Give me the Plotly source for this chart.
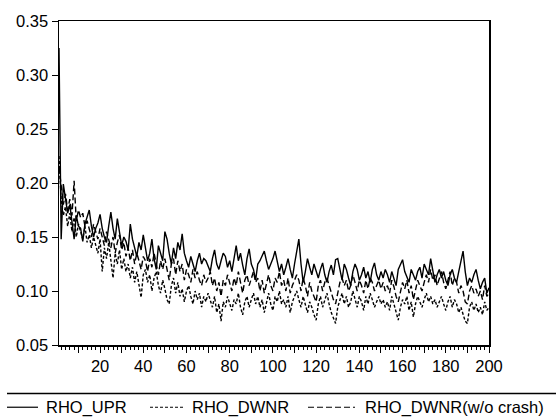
import plotly.graph_objects as go

t = list(range(1, 201))

rho_upr = [
    0.325, 0.148, 0.199, 0.185, 0.172, 0.180, 0.165, 0.148, 0.170, 0.160,
    0.158, 0.146, 0.162, 0.168, 0.175, 0.160, 0.150, 0.158, 0.163, 0.171,
    0.158, 0.150, 0.145, 0.160, 0.173, 0.158, 0.148, 0.167, 0.155, 0.142,
    0.150, 0.146, 0.138, 0.162, 0.148, 0.140, 0.132, 0.145, 0.138, 0.152,
    0.140, 0.128, 0.135, 0.148, 0.130, 0.120, 0.142, 0.135, 0.128, 0.155,
    0.148, 0.135, 0.125, 0.140, 0.130, 0.145, 0.138, 0.153, 0.135, 0.128,
    0.122, 0.132, 0.126, 0.118, 0.128, 0.135, 0.125, 0.130, 0.128, 0.122,
    0.118, 0.130, 0.138, 0.125, 0.120, 0.128, 0.135, 0.132, 0.122, 0.128,
    0.118, 0.130, 0.142, 0.128, 0.135, 0.124, 0.115, 0.130, 0.139, 0.125,
    0.120, 0.110, 0.125, 0.128, 0.132, 0.137, 0.128, 0.120, 0.125, 0.130,
    0.137, 0.126, 0.118, 0.125, 0.115, 0.122, 0.130, 0.120, 0.112, 0.125,
    0.135, 0.148, 0.125, 0.108, 0.118, 0.130, 0.122, 0.115, 0.125, 0.118,
    0.112, 0.120, 0.126, 0.115, 0.108, 0.118, 0.124, 0.115, 0.129, 0.130,
    0.118, 0.110, 0.125, 0.120, 0.112, 0.105, 0.118, 0.125, 0.120, 0.110,
    0.115, 0.122, 0.112, 0.118, 0.108, 0.120, 0.126, 0.115, 0.110, 0.118,
    0.112, 0.120, 0.115, 0.108, 0.118, 0.112, 0.105, 0.120, 0.124, 0.129,
    0.118, 0.112, 0.108, 0.120, 0.115, 0.110, 0.118, 0.122, 0.112, 0.125,
    0.120, 0.115, 0.130, 0.118, 0.108, 0.115, 0.120, 0.112, 0.118, 0.110,
    0.105, 0.115, 0.120, 0.112, 0.108, 0.118, 0.128, 0.137, 0.118, 0.105,
    0.112, 0.108, 0.115, 0.120, 0.110, 0.102, 0.108, 0.112, 0.098, 0.103,
]

rho_dwnr = [
    0.225, 0.185, 0.170, 0.178, 0.160, 0.172, 0.155, 0.168, 0.150, 0.162,
    0.155, 0.148, 0.160, 0.145, 0.152, 0.140, 0.150, 0.142, 0.135, 0.148,
    0.118, 0.140, 0.130, 0.145, 0.128, 0.112, 0.135, 0.125, 0.138, 0.120,
    0.130, 0.118, 0.125, 0.112, 0.122, 0.108, 0.118, 0.105, 0.094, 0.115,
    0.120, 0.108, 0.115, 0.100, 0.112, 0.118, 0.105, 0.098, 0.110, 0.102,
    0.092, 0.088, 0.105, 0.112, 0.098, 0.108, 0.095, 0.102, 0.090, 0.100,
    0.105, 0.095, 0.088, 0.100, 0.092, 0.098, 0.085, 0.095, 0.090, 0.098,
    0.092, 0.085, 0.095, 0.080, 0.088, 0.072, 0.090, 0.085, 0.095, 0.088,
    0.082, 0.092, 0.088, 0.098, 0.085, 0.078, 0.090, 0.095, 0.085, 0.092,
    0.098, 0.088, 0.095, 0.085, 0.092, 0.080, 0.090, 0.098, 0.088, 0.082,
    0.095, 0.090, 0.100, 0.088, 0.092, 0.085, 0.095, 0.080, 0.090, 0.095,
    0.100, 0.092, 0.085, 0.095, 0.088, 0.080, 0.090, 0.085, 0.078, 0.073,
    0.088, 0.095, 0.085, 0.092, 0.098, 0.088, 0.080, 0.075, 0.070, 0.085,
    0.092, 0.098, 0.088, 0.095, 0.085, 0.090, 0.100, 0.092, 0.085, 0.095,
    0.090, 0.082, 0.095, 0.088, 0.098, 0.092, 0.085, 0.090, 0.095, 0.088,
    0.092, 0.085, 0.090, 0.082, 0.095, 0.088, 0.080, 0.073, 0.085, 0.092,
    0.088, 0.095, 0.082, 0.090, 0.076, 0.088, 0.095, 0.090, 0.085, 0.092,
    0.098, 0.090, 0.095, 0.088, 0.092, 0.085, 0.090, 0.095, 0.088, 0.082,
    0.090, 0.095, 0.085, 0.092, 0.088, 0.080, 0.085, 0.078, 0.072, 0.070,
    0.085, 0.090, 0.082, 0.088, 0.080, 0.085, 0.078, 0.090, 0.082, 0.085,
]

rho_dwnr_wo_crash = [
    0.215, 0.200, 0.180, 0.190, 0.175, 0.185, 0.170, 0.202, 0.165, 0.175,
    0.168, 0.172, 0.160, 0.165, 0.158, 0.150, 0.162, 0.155, 0.148, 0.158,
    0.150, 0.142, 0.155, 0.148, 0.140, 0.150, 0.135, 0.145, 0.152, 0.138,
    0.145, 0.132, 0.140, 0.128, 0.138, 0.125, 0.135, 0.128, 0.120, 0.132,
    0.128, 0.118, 0.130, 0.122, 0.135, 0.125, 0.115, 0.128, 0.120, 0.130,
    0.118, 0.110, 0.125, 0.130, 0.115, 0.128, 0.118, 0.125, 0.110, 0.120,
    0.115, 0.108, 0.120, 0.112, 0.118, 0.110, 0.105, 0.115, 0.108, 0.112,
    0.118, 0.105, 0.112, 0.100, 0.108, 0.095, 0.110, 0.105, 0.115, 0.108,
    0.100, 0.112, 0.105, 0.118, 0.108, 0.098, 0.110, 0.115, 0.105, 0.112,
    0.118, 0.108, 0.112, 0.100, 0.110, 0.098, 0.108, 0.115, 0.105, 0.100,
    0.112, 0.108, 0.118, 0.105, 0.110, 0.100, 0.112, 0.098, 0.105, 0.110,
    0.115, 0.110, 0.100, 0.112, 0.105, 0.095, 0.108, 0.100, 0.095, 0.090,
    0.105, 0.110, 0.100, 0.108, 0.112, 0.105, 0.098, 0.092, 0.088, 0.100,
    0.108, 0.112, 0.105, 0.110, 0.100, 0.105, 0.115, 0.108, 0.100, 0.110,
    0.105, 0.098, 0.110, 0.102, 0.112, 0.108, 0.100, 0.105, 0.110, 0.102,
    0.108, 0.100, 0.105, 0.098, 0.110, 0.104, 0.095, 0.090, 0.100, 0.108,
    0.102, 0.110, 0.098, 0.105, 0.092, 0.102, 0.110, 0.105, 0.100, 0.108,
    0.115, 0.108, 0.120, 0.110, 0.115, 0.105, 0.112, 0.118, 0.108, 0.102,
    0.110, 0.118, 0.105, 0.112, 0.108, 0.098, 0.105, 0.100, 0.090, 0.088,
    0.100, 0.105, 0.098, 0.102, 0.095, 0.100, 0.092, 0.105, 0.095, 0.098,
]

x_tick_vals = list(range(10, 201, 10))
x_tick_text = [str(v) if v % 20 == 0 else "" for v in x_tick_vals]
y_tick_vals = [0.05, 0.10, 0.15, 0.20, 0.25, 0.30, 0.35]
y_tick_text = ["0.05", "0.10", "0.15", "0.20", "0.25", "0.30", "0.35"]

series_names = ["RHO_UPR", "RHO_DWNR", "RHO_DWNR(w/o crash)"]
series_dash = ["solid", "3px,2px", "6px,3px"]
series_values = [rho_upr, rho_dwnr, rho_dwnr_wo_crash]

FONT = "Arial, Liberation Sans, sans-serif"
FS = 16.5
W, H = 556, 419
L, R, T, B = 59, 489, 17, 345

fig = go.Figure()
for name, dash, vals in zip(series_names, series_dash, series_values):
    fig.add_trace(go.Scatter(
        x=t, y=vals, mode="lines", name=name,
        line=dict(color="black", width=1.4, dash=dash),
        showlegend=False,
    ))

def px_x(p):
    return (p - L) / (R - L)

def px_y(p):
    return (B - p) / (B - T)

shapes = [
    dict(type="line", xref="paper", yref="paper",
         x0=px_x(7), x1=px_x(556), y0=px_y(394), y1=px_y(394),
         line=dict(color="black", width=1.5)),
]
annotations = []
legend_items = [
    (7, 38, 44),
    (150, 184, 190),
    (308, 355, 363),
]
for (x0, x1, xt), name, dash in zip(legend_items, series_names, series_dash):
    shapes.append(dict(type="line", xref="paper", yref="paper",
                       x0=px_x(x0), x1=px_x(x1), y0=px_y(408), y1=px_y(408),
                       line=dict(color="black", width=1.2, dash=dash)))
    annotations.append(dict(xref="paper", yref="paper", x=px_x(xt), y=px_y(408),
                            text=name, showarrow=False, xanchor="left",
                            yanchor="middle",
                            font=dict(family=FONT, size=FS, color="black")))

fig.update_layout(
    width=W, height=H,
    margin=dict(l=L, r=W - R, t=T, b=H - B, pad=0),
    paper_bgcolor="white", plot_bgcolor="white",
    font=dict(family=FONT, size=FS, color="black"),
    shapes=shapes, annotations=annotations,
    showlegend=False,
)
fig.update_xaxes(
    range=[1, 200], showgrid=False, zeroline=False,
    showline=True, linecolor="black", linewidth=1.5, mirror=True,
    ticks="outside", ticklen=6, tickwidth=1, tickcolor="black",
    tickvals=x_tick_vals, ticktext=x_tick_text,
    minor=dict(dtick=2, tick0=0, ticks="outside", ticklen=3, tickcolor="black", tickwidth=1),
    tickfont=dict(family=FONT, size=FS, color="black"),
)
fig.update_yaxes(
    range=[0.05, 0.35], showgrid=False, zeroline=False,
    showline=True, linecolor="black", linewidth=1.5, mirror=True,
    ticks="outside", ticklen=6, tickwidth=1, tickcolor="black",
    tickvals=y_tick_vals, ticktext=y_tick_text,
    tickfont=dict(family=FONT, size=FS, color="black"),
)

fig.write_html(
    "out.html",
    config={"displayModeBar": False, "staticPlot": True},
    post_script="document.body.style.margin='0';document.body.style.overflow='hidden';",
)
